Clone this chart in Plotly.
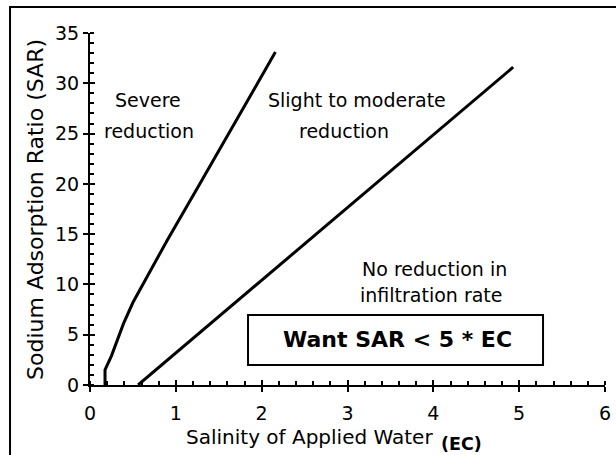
import plotly.graph_objects as go

# Data
severe_x = [0.175, 0.175, 0.25, 0.32, 0.39, 0.50, 0.64, 0.90, 1.26, 1.70, 2.16]
severe_y = [0.0, 1.5, 2.9, 4.5, 6.1, 8.2, 10.4, 14.4, 19.7, 26.2, 33.1]
slight_x = [0.56, 4.93]
slight_y = [0.0, 31.6]

x_ticks = [0, 1, 2, 3, 4, 5, 6]
y_ticks = [0, 5, 10, 15, 20, 25, 30, 35]

FONT = "DejaVu Sans"
fig = go.Figure()
fig.add_trace(go.Scatter(x=severe_x, y=severe_y, mode="lines",
                         line=dict(color="black", width=3), hoverinfo="skip"))
fig.add_trace(go.Scatter(x=slight_x, y=slight_y, mode="lines",
                         line=dict(color="black", width=3), hoverinfo="skip"))
# empty trace to host overlay axes for inward major ticks
fig.add_trace(go.Scatter(x=[], y=[], xaxis="x2", yaxis="y2", showlegend=False))

axis_common = dict(showgrid=False, zeroline=False, showline=True, linecolor="black",
                   linewidth=2, ticks="outside", ticklen=5, tickwidth=2, tickcolor="black",
                   automargin=False,
                   tickfont=dict(family=FONT, size=19, color="black"))
fig.update_layout(
    width=616, height=455,
    margin=dict(l=90, r=11, t=33, b=70, autoexpand=False),
    paper_bgcolor="white", plot_bgcolor="white",
    showlegend=False,
    xaxis=dict(range=[0, 6], tickvals=x_ticks, ticktext=[str(v) for v in x_ticks],
               minor=dict(dtick=0.2, ticks="inside", ticklen=4, tickwidth=1.5, tickcolor="black"),
               ticklabelstandoff=5, **axis_common),
    yaxis=dict(range=[0, 35], tickvals=y_ticks, ticktext=[str(v) for v in y_ticks],
               minor=dict(dtick=1, ticks="inside", ticklen=4, tickwidth=1.5, tickcolor="black"),
               ticklabelstandoff=0, **axis_common),
    xaxis2=dict(range=[0, 6], overlaying="x", anchor="y2", side="bottom", tickvals=x_ticks,
                showticklabels=False, ticks="inside", ticklen=5, tickwidth=2, tickcolor="black",
                showgrid=False, zeroline=False, showline=False, automargin=False),
    yaxis2=dict(range=[0, 35], overlaying="y", anchor="x2", side="left", tickvals=y_ticks,
                showticklabels=False, ticks="inside", ticklen=5, tickwidth=2, tickcolor="black",
                showgrid=False, zeroline=False, showline=False, automargin=False),
)

def note(text, x, y, size=19, bold=False, ref="data", angle=0):
    fig.add_annotation(text=f"<b>{text}</b>" if bold else text, x=x, y=y,
                       xref="x" if ref == "data" else "paper",
                       yref="y" if ref == "data" else "paper",
                       xanchor="center", yanchor="middle",
                       showarrow=False, textangle=angle,
                       font=dict(family=FONT, size=size, color="black"))

note("Severe", 0.670, 28.34)
note("reduction", 0.687, 25.26)
note("Slight to moderate", 3.105, 28.34)
note("reduction", 2.954, 25.26)
note("No reduction in", 4.014, 11.53)
note("infiltration rate", 3.973, 8.95)
note("Want SAR &lt; 5 * EC", 3.583, 4.57, size=22, bold=True)
note("Salinity of Applied Water", 0.427, -0.147, size=20, ref="paper")
note("(EC)", 0.722, -0.167, size=17.5, bold=True, ref="paper")
note("Sodium Adsorption Ratio (SAR)", -0.107, 0.5, size=22, ref="paper", angle=-90)

# Box around the rule text
fig.add_shape(type="rect", xref="x", yref="y", x0=1.841, x1=5.278, y0=1.99, y1=6.96,
              line=dict(color="black", width=2))
# Outer frame (left and top edges visible)
fig.add_shape(type="rect", xref="paper", yref="paper", x0=-0.1553, x1=1.05, y0=-0.25, y1=1.0739,
              line=dict(color="black", width=2), layer="above")

fig.write_html("out.html", config={"displayModeBar": False},
               post_script="document.body.style.margin='0';document.body.style.overflow='hidden';")
